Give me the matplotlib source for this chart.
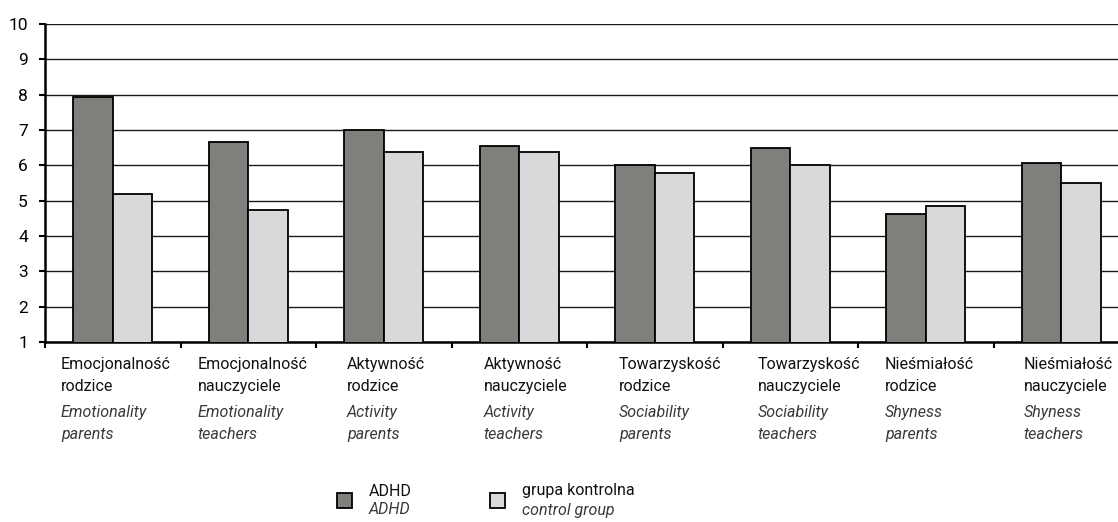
import numpy as np
import matplotlib
matplotlib.use('Agg')
import matplotlib.pyplot as plt
from matplotlib.patches import Rectangle

plt.rcParams['font.family'] = ['Roboto', 'DejaVu Sans']

# ---- dane ----
kategorie_pl = ['Emocjonalność\nrodzice', 'Emocjonalność\nnauczyciele',
                'Aktywność\nrodzice', 'Aktywność\nnauczyciele',
                'Towarzyskość\nrodzice', 'Towarzyskość\nnauczyciele',
                'Nieśmiałość\nrodzice', 'Nieśmiałość\nnauczyciele']
kategorie_en = ['Emotionality\nparents', 'Emotionality\nteachers',
                'Activity\nparents', 'Activity\nteachers',
                'Sociability\nparents', 'Sociability\nteachers',
                'Shyness\nparents', 'Shyness\nteachers']
adhd = [7.94, 6.67, 7.0, 6.56, 6.0, 6.5, 4.61, 6.06]
kontrolna = [5.18, 4.73, 6.38, 6.38, 5.78, 6.0, 4.84, 5.5]
y_ticks = list(range(1, 11))
legenda_pl = ['ADHD', 'grupa kontrolna']
legenda_en = ['ADHD', 'control group']

# ---- wyglad ----
DARK = '#7f807c'
LIGHT = '#d8d9db'
W, H = 1118, 522
px = 0.72  # piksel -> punkt przy dpi 100
label_off = [16, 17, 31, 32, 32, 35, 27, 30]  # przesuniecie etykiet w pikselach
FS = 11.5

fig = plt.figure(figsize=(W / 100, H / 100), dpi=100)
ax = fig.add_axes([45 / W, 1 - 342 / H, 1084 / W, 318 / H])

x = np.arange(len(adhd))
bw = 0.29
ax.bar(x - bw / 2, adhd, bw, color=DARK, edgecolor='black', linewidth=1.3, zorder=3)
ax.bar(x + bw / 2, kontrolna, bw, color=LIGHT, edgecolor='black', linewidth=1.3, zorder=3)

ax.set_ylim(1, 10)
ax.set_xlim(-0.5, len(adhd) - 0.5)
ax.set_yticks(y_ticks)
ax.yaxis.grid(True, color='#1a1a1a', linewidth=1.0)
ax.set_axisbelow(True)

for s in ['top', 'right']:
    ax.spines[s].set_visible(False)
for s in ['left', 'bottom']:
    ax.spines[s].set_linewidth(1.8)

ax.tick_params(axis='y', length=4.3, width=1.5, pad=8, labelsize=12.5)
ax.set_xticks(np.arange(-0.5, len(adhd), 1))
ax.set_xticklabels([])
ax.tick_params(axis='x', length=4, width=1.5)

for i in range(len(adhd)):
    ax.annotate(kategorie_pl[i], xy=(i - 0.5, 0), xycoords=('data', 'axes fraction'),
                xytext=(label_off[i] * px, -15 * px), textcoords='offset points',
                ha='left', va='top', fontsize=FS, color='#111111', linespacing=1.58,
                annotation_clip=False)
    ax.annotate(kategorie_en[i], xy=(i - 0.5, 0), xycoords=('data', 'axes fraction'),
                xytext=(label_off[i] * px, -63 * px), textcoords='offset points',
                ha='left', va='top', fontsize=FS, color='#3a3a3a', style='italic',
                linespacing=1.58, annotation_clip=False)

# ---- legenda ----
leg_x = [337, 490]
kolory = [DARK, LIGHT]
for j in range(2):
    fig.patches.append(Rectangle((leg_x[j] / W, 1 - 508 / H), 15 / W, 15 / H,
                                 transform=fig.transFigure, facecolor=kolory[j],
                                 edgecolor='black', linewidth=1.3))
    fig.text((leg_x[j] + 32) / W, 1 - 491 / H, legenda_pl[j], fontsize=FS,
             color='#111111', ha='left', va='center')
    fig.text((leg_x[j] + 32) / W, 1 - 510 / H, legenda_en[j], fontsize=FS,
             color='#3a3a3a', style='italic', ha='left', va='center')

plt.savefig('out.png', dpi=100)
